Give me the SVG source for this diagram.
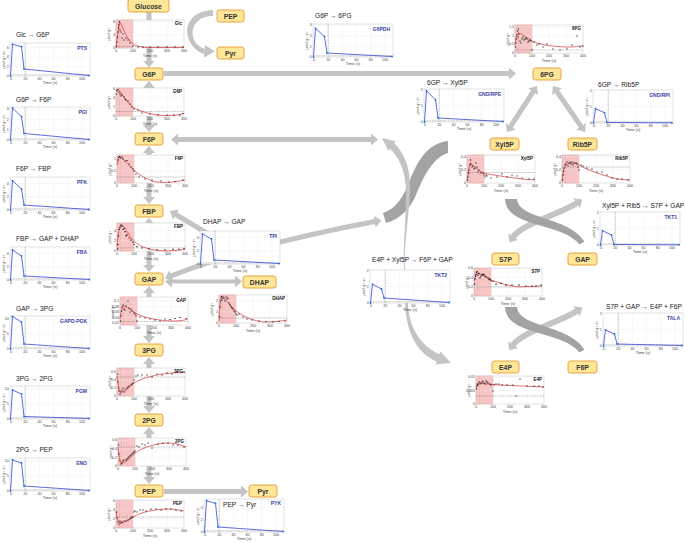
<svg xmlns="http://www.w3.org/2000/svg" width="685" height="543" viewBox="0 0 685 543">
<style>
.nd rect{fill:#ffe699;stroke:#e8a33d;stroke-width:1}
.nd text{font:bold 6.8px "Liberation Sans",Arial,sans-serif;fill:#333;text-anchor:middle}
.ttl{font:6.6px "Liberation Sans",Arial,sans-serif;fill:#222}
.frame{fill:#fff;stroke:#c8c8c8;stroke-width:0.5}
.grid{fill:none;stroke:#ebebeb;stroke-width:0.4}
.pink{fill:#f7c5c5;stroke:#e59a9a;stroke-width:0.4}
.vd{stroke:#999;stroke-width:0.4;stroke-dasharray:1 0.8}
.gd{stroke:#4f9a62;stroke-width:0.5;stroke-dasharray:1.2 0.8}
.dt{stroke:#666;stroke-width:0.5;stroke-dasharray:0.8 0.8;fill:none}
.rc{fill:none;stroke:#d33;stroke-width:0.7}
.dots{fill:none;stroke:#111;stroke-width:1.2;stroke-linecap:square}
.bl{fill:none;stroke:#3346d6;stroke-width:0.8}
.bp{fill:none;stroke:#1f6fe0;stroke-width:1.8;stroke-linecap:round}
.tk{font:3.6px "Liberation Sans",Arial,sans-serif;fill:#444}
.ax{font:4px "Liberation Sans",Arial,sans-serif;fill:#444}
.fl{font:bold 5px "Liberation Sans",Arial,sans-serif;fill:#3b3fa8;text-anchor:end}
.ml{font:bold 4.5px "Liberation Sans",Arial,sans-serif;fill:#111;text-anchor:end}
.lg{stroke:#c4c4c4;fill:none}
.lgf{fill:#c4c4c4}
.dkf{fill:#a3a3a3}
</style>
<defs>
<marker id="ah" markerUnits="userSpaceOnUse" viewBox="0 0 7 12" markerWidth="7" markerHeight="12" refX="0.5" refY="6" orient="auto-start-reverse"><path d="M0,0 L7,6 L0,12 Z" fill="#c4c4c4"/></marker>
<g id="fluxbase">
<rect class="frame" width="80" height="33"/>
<path class="grid" d="M15.2,0V33M29.4,0V33M43.6,0V33M57.8,0V33M72,0V33"/>
<line class="dt" x1="0" y1="31.8" x2="80" y2="31.8"/>
<line class="gd" x1="15.2" y1="0" x2="15.2" y2="33"/>
<g class="tk" text-anchor="middle"><text x="1" y="36.5">0</text><text x="15.2" y="36.5">20</text><text x="29.4" y="36.5">40</text><text x="43.6" y="36.5">60</text><text x="57.8" y="36.5">80</text><text x="72" y="36.5">100</text></g>
<text class="ax" x="40" y="41" text-anchor="middle">Time (s)</text>
<text class="tk" transform="translate(-5.5,16.5) rotate(-90)" text-anchor="middle">μmol g⁻¹ s⁻¹</text>
</g>
<g id="metbase">
<rect class="frame" width="68" height="28"/>
<rect class="pink" width="17" height="28"/>
<path class="grid" d="M17,0V28M34,0V28M51,0V28"/>
<line class="vd" x1="3.4" y1="0" x2="3.4" y2="28"/>
<g class="tk" text-anchor="middle"><text x="0" y="32">0</text><text x="17" y="32">100</text><text x="34" y="32">200</text><text x="51" y="32">300</text><text x="68" y="32">400</text></g>
<text class="ax" x="34" y="36.5" text-anchor="middle">Time (s)</text>
<text class="tk" transform="translate(-6.5,14) rotate(-90)" text-anchor="middle">μmol g⁻¹</text>
</g>
</defs>
<rect width="685" height="543" fill="#fff"/>

<g id="connectors">
<g class="lg" stroke-width="5" marker-end="url(#ah)">
<line x1="149" y1="12" x2="149" y2="61"/>
<line x1="164" y1="73.5" x2="509.5" y2="73.5"/>
<line x1="164" y1="491.5" x2="241.5" y2="491.5"/>
<line x1="215" y1="238" x2="175.6" y2="214.3"/>
</g>
<g class="lg" stroke-width="5" marker-start="url(#ah)" marker-end="url(#ah)">
<line x1="149" y1="87.5" x2="149" y2="125.5"/>
<line x1="149" y1="152.5" x2="149" y2="197.5"/>
<line x1="149" y1="224.5" x2="149" y2="265.5"/>
<line x1="149" y1="292.5" x2="149" y2="336.5"/>
<line x1="149" y1="363.5" x2="149" y2="406.5"/>
<line x1="149" y1="433.5" x2="149" y2="477.5"/>
<line x1="177.5" y1="139.5" x2="371.5" y2="139.5"/>
<path d="M171,276 Q250,245 375,221.5"/>
<line x1="533.4" y1="91.4" x2="510.5" y2="126.6"/>
<line x1="556.7" y1="91.3" x2="581.3" y2="126.7"/>
</g>
<g class="lg" stroke-width="6" marker-start="url(#ah)" marker-end="url(#ah)">
<path d="M513,237 C522,224 560,214 577,203"/>
<path d="M513,345 C522,332 560,322 577,311"/>
</g>
<line class="lg" stroke-width="4" x1="171.5" y1="281.5" x2="235.5" y2="281.5" marker-start="url(#ah)" marker-end="url(#ah)"/>
<path class="lgf" d="M213,10 C194,10 184,24 188,37 C191,46 197,52 204,54 L204,57.5 L215,51.5 L205,45 L205,49 C199,47 194,43 193,36 C191,26 198,16 213,16 Z"/>
<path class="dkf" d="M448,141 C428,143 418,160 410,180 C404,196 396,209 383,213 L386,223 C400,219 410,209 416,195 C423,178 432,158 448,153 Z"/>
<path class="lgf" d="M382,138 L395.75,141.3 L394.2,143.3 C402,151 411,165 410,190 C409,215 405,240 404.6,258 L403.6,258 C404,240 406,215 406,192 C406,170 398,156 389.8,148.7 L388.25,150.7 Z"/>
<line class="lg" stroke-width="1" x1="404" y1="258" x2="406.5" y2="302"/>
<path class="lgf" d="M451,363 L440.5,351.5 L439.4,354.3 C428,349 418,340 412,325 C409,316 408,309 408,302 L405,302 C405,312 407,322 410,332 C416,348 426,357 436.6,361.7 L435.5,364.5 Z"/>
<path class="dkf" d="M505,199 C506,228 562,222 579.5,244.5 L584.5,241.5 C568,216 519,220 517,199 Z"/>
<path class="dkf" d="M505,307 C506,336 562,330 579.5,352.5 L584.5,349.5 C568,324 519,328 517,307 Z"/>
</g>

<g id="flux-pts" transform="translate(10,43)">
<text class="ttl" x="6" y="-6">Glc → G6P</text>
<use href="#fluxbase"/>
<path class="grid" d="M0,23.6H80M0,14.2H80M0,4.7H80"/>
<polyline class="bl" points="0.5,33 2.5,1.3 11.5,3.7 14,26 79,32.5"/>
<path class="bp" d="M0.5,33h0M2.5,1.3h0M11.5,3.7h0M14,26h0M79,32.5h0"/>
<g class="tk" text-anchor="end"><text x="-1.2" y="34.2">0</text><text x="-1.2" y="24.8">2</text><text x="-1.2" y="15.4">4</text><text x="-1.2" y="5.9">6</text></g>
<text class="fl" x="77" y="6.5">PTS</text>
</g>
<g id="flux-pgi" transform="translate(10,107)">
<text class="ttl" x="6" y="-5">G6P → F6P</text>
<use href="#fluxbase"/>
<path class="grid" d="M0,22.7H80M0,12.4H80M0,2.1H80"/>
<polyline class="bl" points="0.5,33 2.5,1 11.5,9.7 14,26.5 79,32.5"/>
<path class="bp" d="M0.5,33h0M2.5,1h0M11.5,9.7h0M14,26.5h0M79,32.5h0"/>
<g class="tk" text-anchor="end"><text x="-1.2" y="34.2">0</text><text x="-1.2" y="23.9">1</text><text x="-1.2" y="13.6">2</text><text x="-1.2" y="3.3">3</text></g>
<text class="fl" x="77" y="6.5">PGI</text>
</g>
<g id="flux-pfk" transform="translate(10,177)">
<text class="ttl" x="6" y="-6">F6P → FBP</text>
<use href="#fluxbase"/>
<path class="grid" d="M0,19.8H80M0,6.6H80"/>
<polyline class="bl" points="0.5,33 2.5,3.7 11.5,12 14,28 79,32.5"/>
<path class="bp" d="M0.5,33h0M2.5,3.7h0M11.5,12h0M14,28h0M79,32.5h0"/>
<g class="tk" text-anchor="end"><text x="-1.2" y="34.2">0</text><text x="-1.2" y="21">2</text><text x="-1.2" y="7.8">4</text></g>
<text class="fl" x="77" y="6.5">PFK</text>
</g>
<g id="flux-fba" transform="translate(10,247)">
<text class="ttl" x="6" y="-6">FBP → GAP + DHAP</text>
<use href="#fluxbase"/>
<path class="grid" d="M0,19.8H80M0,6.6H80"/>
<polyline class="bl" points="0.5,33 2.5,3 11.5,9 14,29 79,32.5"/>
<path class="bp" d="M0.5,33h0M2.5,3h0M11.5,9h0M14,29h0M79,32.5h0"/>
<g class="tk" text-anchor="end"><text x="-1.2" y="34.2">0</text><text x="-1.2" y="21">2</text><text x="-1.2" y="7.8">4</text></g>
<text class="fl" x="77" y="6.5">FBA</text>
</g>
<g id="flux-gapd" transform="translate(10,316)">
<text class="ttl" x="6" y="-5">GAP → 3PG</text>
<use href="#fluxbase"/>
<path class="grid" d="M0,18H80M0,3H80"/>
<polyline class="bl" points="0.5,33 2.5,0.5 11.5,6 14,28 79,32.5"/>
<path class="bp" d="M0.5,33h0M2.5,0.5h0M11.5,6h0M14,28h0M79,32.5h0"/>
<g class="tk" text-anchor="end"><text x="-1.2" y="34.2">0</text><text x="-1.2" y="19.2">5</text><text x="-1.2" y="4.2">10</text></g>
<text class="fl" x="77" y="6.5">GAPD-PGK</text>
</g>
<g id="flux-pgm" transform="translate(10,386)">
<text class="ttl" x="6" y="-5">3PG → 2PG</text>
<use href="#fluxbase"/>
<path class="grid" d="M0,18H80M0,3H80"/>
<polyline class="bl" points="0.5,33 2.5,4 11.5,8 14,30.5 79,32.5"/>
<path class="bp" d="M0.5,33h0M2.5,4h0M11.5,8h0M14,30.5h0M79,32.5h0"/>
<g class="tk" text-anchor="end"><text x="-1.2" y="34.2">0</text><text x="-1.2" y="19.2">5</text><text x="-1.2" y="4.2">10</text></g>
<text class="fl" x="77" y="6.5">PGM</text>
</g>
<g id="flux-eno" transform="translate(10,458)">
<text class="ttl" x="6" y="-6">2PG → PEP</text>
<use href="#fluxbase"/>
<path class="grid" d="M0,18H80M0,3H80"/>
<polyline class="bl" points="0.5,33 2.5,2 11.5,5 14,28 79,32.5"/>
<path class="bp" d="M0.5,33h0M2.5,2h0M11.5,5h0M14,28h0M79,32.5h0"/>
<g class="tk" text-anchor="end"><text x="-1.2" y="34.2">0</text><text x="-1.2" y="19.2">5</text><text x="-1.2" y="4.2">10</text></g>
<text class="fl" x="77" y="6.5">ENO</text>
</g>
<g id="flux-g6pdh" transform="translate(313,24)">
<text class="ttl" x="2" y="-6">G6P → 6PG</text>
<use href="#fluxbase"/>
<path class="grid" d="M0,22.4H80M0,11.7H80M0,1.1H80"/>
<polyline class="bl" points="0.5,33 2.5,4.3 11.5,12.7 14,29 79,32.5"/>
<path class="bp" d="M0.5,33h0M2.5,4.3h0M11.5,12.7h0M14,29h0M79,32.5h0"/>
<g class="tk" text-anchor="end"><text x="-1.2" y="34.2">0</text><text x="-1.2" y="23.6">1</text><text x="-1.2" y="12.9">2</text><text x="-1.2" y="2.3">3</text></g>
<text class="fl" x="77" y="6.5">G6PDH</text>
</g>
<g id="flux-gndrpe" transform="translate(424,89)">
<text class="ttl" x="3" y="-4">6GP → Xyl5P</text>
<use href="#fluxbase"/>
<path class="grid" d="M0,16.5H80"/>
<polyline class="bl" points="0.5,33 2.5,1.7 11.5,11 14,29 79,32.5"/>
<path class="bp" d="M0.5,33h0M2.5,1.7h0M11.5,11h0M14,29h0M79,32.5h0"/>
<g class="tk" text-anchor="end"><text x="-1.2" y="34.2">0</text><text x="-1.2" y="17.7">1</text><text x="-1.2" y="2">2</text></g>
<text class="fl" x="77" y="6.5">GND/RPE</text>
</g>
<g id="flux-gndrpi" transform="translate(593,90)">
<text class="ttl" x="5" y="-3">6GP → Rib5P</text>
<use href="#fluxbase"/>
<path class="grid" d="M0,16.5H80"/>
<polyline class="bl" points="0.5,33 2.5,18.7 11.5,22.7 14,32.5 79,32.8"/>
<path class="bp" d="M0.5,33h0M2.5,18.7h0M11.5,22.7h0M14,32.5h0M79,32.8h0"/>
<g class="tk" text-anchor="end"><text x="-1.2" y="34.2">0</text><text x="-1.2" y="17.7">1</text><text x="-1.2" y="2">2</text></g>
<text class="fl" x="77" y="6.5">GND/RPI</text>
</g>
<g id="flux-tpi" transform="translate(200,231)">
<text class="ttl" x="3" y="-7">DHAP → GAP</text>
<use href="#fluxbase"/>
<path class="grid" d="M0,19.8H80M0,6.6H80"/>
<polyline class="bl" points="0.5,33 2.5,3 11.5,8 14,29 79,32.5"/>
<path class="bp" d="M0.5,33h0M2.5,3h0M11.5,8h0M14,29h0M79,32.5h0"/>
<g class="tk" text-anchor="end"><text x="-1.2" y="34.2">0</text><text x="-1.2" y="21">2</text><text x="-1.2" y="7.8">4</text></g>
<text class="fl" x="77" y="6.5">TPI</text>
</g>
<g id="flux-tkt2" transform="translate(370,270)">
<text class="ttl" x="2" y="-8">E4P + Xyl5P → F6P + GAP</text>
<use href="#fluxbase"/>
<path class="grid" d="M0,16.5H80"/>
<polyline class="bl" points="0.5,33 2.5,14.3 11.5,19 14,28 79,32.5"/>
<path class="bp" d="M0.5,33h0M2.5,14.3h0M11.5,19h0M14,28h0M79,32.5h0"/>
<g class="tk" text-anchor="end"><text x="-1.2" y="34.2">0</text><text x="-1.2" y="17.7">1</text><text x="-1.2" y="2">2</text></g>
<text class="fl" x="77" y="6.5">TKT2</text>
</g>
<g id="flux-tkt1" transform="translate(600,212)">
<text class="ttl" x="2" y="-4">Xyl5P + Rib5 → S7P + GAP</text>
<use href="#fluxbase"/>
<path class="grid" d="M0,16.5H80"/>
<polyline class="bl" points="0.5,33 2.5,18.7 11.5,23 14,32.5 79,32.8"/>
<path class="bp" d="M0.5,33h0M2.5,18.7h0M11.5,23h0M14,32.5h0M79,32.8h0"/>
<g class="tk" text-anchor="end"><text x="-1.2" y="34.2">0</text><text x="-1.2" y="17.7">1</text><text x="-1.2" y="2">2</text></g>
<text class="fl" x="77" y="6.5">TKT1</text>
</g>
<g id="flux-tala" transform="translate(603,313)">
<text class="ttl" x="3" y="-4">S7P + GAP → E4P + F6P</text>
<use href="#fluxbase"/>
<path class="grid" d="M0,16.5H80"/>
<polyline class="bl" points="0.5,33 2.5,17 11.5,21 14,31 79,32.5"/>
<path class="bp" d="M0.5,33h0M2.5,17h0M11.5,21h0M14,31h0M79,32.5h0"/>
<g class="tk" text-anchor="end"><text x="-1.2" y="34.2">0</text><text x="-1.2" y="17.7">1</text><text x="-1.2" y="2">2</text></g>
<text class="fl" x="77" y="6.5">TALA</text>
</g>
<g id="flux-pyk" transform="translate(204,499)">
<use href="#fluxbase"/>
<path class="grid" d="M0,21H80M0,9H80"/>
<polyline class="bl" points="0.5,33 2.5,1.7 11.5,4.3 14,28 79,32.5"/>
<path class="bp" d="M0.5,33h0M2.5,1.7h0M11.5,4.3h0M14,28h0M79,32.5h0"/>
<g class="tk" text-anchor="end"><text x="-1.2" y="34.2">0</text><text x="-1.2" y="22.2">2</text><text x="-1.2" y="10.2">4</text></g>
<text class="ttl" x="19" y="8">PEP → Pyr</text>
<text class="fl" x="77" y="5.5">PYK</text>
</g>

<g id="plot-glc" transform="translate(116,20)">
<use href="#metbase"/>
<path class="grid" d="M0,14.8H68M0,1.7H68"/>
<line class="dt" x1="0" y1="26.5" x2="68" y2="26.5"/>
<path class="rc" d="M0,28 L1.5,15 L3.4,1.5 C6,5 9,15 14,21 C18,25 22,27 30,27.5 L68,27.5"/>
<path class="dots" d="M0.5,26h0M1,22h0M1.5,17h0M2,12h0M2.5,8h0M3,5h0M3.5,2h0M4,10h0M5,12h0M6,18h0M7,14h0M8,20h0M10,18h0M12,20h0M14,23h0M17,26h0M22,27h0M27,27h0M34,27h0M42,27h0M51,27h0M59,27h0M67,27h0"/>
<g class="tk" text-anchor="end"><text x="-1" y="29.2">0</text><text x="-1" y="16">4</text><text x="-1" y="2.9">8</text></g>
<text class="ml" x="66" y="5">Glc</text>
</g>
<g id="plot-g6p" transform="translate(116,88)">
<use href="#metbase"/>
<path class="grid" d="M0,19H68M0,9.9H68"/>
<line class="dt" x1="0" y1="23.5" x2="68" y2="23.5"/>
<path class="rc" d="M0,3 C2,0.5 3,2 5,5 C10,12 14,17 18,20 C28,25 40,27.5 51,27.5 C58,27.5 63,27 68,25.5"/>
<path class="dots" d="M0.5,6h0M1,3h0M2,1.5h0M3,4h0M4,6h0M5,8h0M6,7h0M8,9h0M9,11h0M10,12h0M12,13h0M14,16h0M16,19h0M18,21h0M22,22h0M26,25h0M34,26h0M42,27h0M51,27h0M58,27h0M64,27h0M67,25.5h0"/>
<g class="tk" text-anchor="end"><text x="-1" y="29.2">0</text><text x="-1" y="20.2">2</text><text x="-1" y="11.1">4</text><text x="-1" y="2.1">6</text></g>
<text class="ml" x="66" y="5">G6P</text>
</g>
<g id="plot-f6p" transform="translate(117,155)">
<use href="#metbase"/>
<path class="grid" d="M0,15.8H68M0,3.6H68"/>
<line class="dt" x1="0" y1="22" x2="68" y2="22"/>
<path class="rc" d="M0,10 L2,2 C4,1 8,6 12,10 C18,17 25,22 35,26 C45,28.5 55,27.5 68,25"/>
<path class="dots" d="M1,5h0M1.5,2.5h0M2.5,1.5h0M3.5,3h0M5,2h0M6,4h0M8,6h0M10,5.5h0M12,9h0M14,12h0M16,14h0M17,16h0M19,19h0M22,22h0M28,24h0M35,25h0M44,26h0M52,27h0M58,26.5h0M66,25h0"/>
<g class="tk" text-anchor="end"><text x="-1" y="29.2">0</text><text x="-1" y="17">0.5</text><text x="-1" y="4.8">1</text></g>
<text class="ml" x="66" y="5">F6P</text>
</g>
<g id="plot-fbp" transform="translate(117,223)">
<use href="#metbase"/>
<path class="grid" d="M0,17.8H68M0,7.6H68"/>
<line class="dt" x1="0" y1="24.8" x2="68" y2="24.8"/>
<path class="rc" d="M0,23.7 C1,10.8 2,3.2 4.2,2.2 C7,2.2 10,8.6 14,15 C20,22.6 30,27 45,27.8 C55,28 62,27.5 68,25.8"/>
<path class="dots" d="M0.5,25.8h0M1,21.5h0M1.5,12.9h0M2,6.5h0M3,4.3h0M4,2.2h0M5,3.2h0M6,6.5h0M7,5.4h0M8,8.6h0M9,12.9h0M10,11.8h0M12,15h0M14,17.2h0M16,19.4h0M17,21.5h0M20,23.7h0M25,24.8h0M32,25.8h0M40,26.9h0M48,26.9h0M56,26.4h0M62,26.4h0M67,25.8h0"/>
<g class="tk" text-anchor="end"><text x="-1" y="29.2">0</text><text x="-1" y="19">2</text><text x="-1" y="8.8">4</text></g>
<text class="ml" x="66" y="5">FBP</text>
</g>
<g id="plot-gap" transform="translate(120,297)">
<use href="#metbase"/>
<path class="grid" d="M0,20.5H68M0,15H68M0,9.5H68M0,4H68"/>
<line class="dt" x1="0" y1="24.5" x2="68" y2="24.5"/>
<path class="rc" d="M0,22 C1,15 2,9 4,9 C8,10 12,14 17,17 C25,21 40,24 55,24 C60,24 65,23 68,22"/>
<path class="dots" d="M0.5,24h0M1,19h0M1.5,14h0M2,10h0M3,8h0M4,12h0M5,13h0M6,9h0M8,4h0M9,11h0M10,15h0M11,12h0M12,14h0M14,16h0M15,17h0M16,19h0M17,24h0M20,20h0M25,21h0M30,22h0M35,23h0M40,24h0M45,22h0M50,22.5h0M55,21.5h0M60,20.5h0M66,21.5h0"/>
<g class="tk" text-anchor="end"><text x="-1" y="27.2">0.02</text><text x="-1" y="21.7">0.04</text><text x="-1" y="16.2">0.06</text><text x="-1" y="10.7">0.08</text><text x="-1" y="5.2">0.1</text></g>
<text class="ml" x="66" y="5">GAP</text>
</g>
<g id="plot-3pg" transform="translate(117,368)">
<use href="#metbase"/>
<path class="grid" d="M0,20H68M0,12H68M0,4H68"/>
<line class="dt" x1="0" y1="9" x2="68" y2="9"/>
<path class="rc" d="M0,8 C1,16 2,23 3.5,24 C8,24 12,20 17,15 C25,10 40,6 55,5 L68,4.5"/>
<path class="dots" d="M0.5,6h0M1,14h0M1.5,20h0M2,23h0M3,26h0M4,24h0M5,22h0M6,20h0M7,24h0M8,21h0M10,20h0M11,19h0M12,18h0M14,17h0M15,16h0M16,15h0M17,12h0M19,8h0M21,7h0M25,7h0M30,7h0M35,9h0M40,6h0M45,7h0M50,5h0M55,6h0M60,4h0M67,4h0"/>
<g class="tk" text-anchor="end"><text x="-1" y="29.2">0</text><text x="-1" y="21.2">0.2</text><text x="-1" y="13.2">0.4</text><text x="-1" y="5.2">0.6</text></g>
<text class="ml" x="66" y="5">3PG</text>
</g>
<g id="plot-2pg" transform="translate(118,438)">
<use href="#metbase"/>
<path class="grid" d="M0,19.4H68M0,10.8H68M0,2.2H68"/>
<line class="dt" x1="0" y1="9" x2="68" y2="9"/>
<path class="rc" d="M0,9 C1,18 2,25 3.5,25 C8,25 12,20 17,15 C25,9 40,5 50,5 C57,5 63,7 68,9"/>
<path class="dots" d="M0.5,7h0M1,16h0M2,23h0M3,26h0M4,25h0M5,23h0M6,22h0M8,22h0M9,21h0M10,20h0M11,19h0M12,18h0M13,17h0M14,16h0M15,15h0M16,14h0M17,13h0M19,8h0M21,9h0M24,6h0M27,7h0M30,5h0M34,10h0M40,6h0M45,5h0M50,5h0M55,7h0M60,7h0M66,9h0"/>
<g class="tk" text-anchor="end"><text x="-1" y="29.2">0</text><text x="-1" y="20.6">0.2</text><text x="-1" y="12">0.4</text><text x="-1" y="3.4">0.6</text></g>
<text class="ml" x="66" y="5">2PG</text>
</g>
<g id="plot-pep" transform="translate(116,500)">
<use href="#metbase"/>
<path class="grid" d="M0,19H68M0,10H68M0,1H68"/>
<line class="dt" x1="0" y1="17" x2="68" y2="17"/>
<path class="rc" d="M0,12 C1,19 2,22 4,23 C8,23 12,20 17,17 C25,12 40,9 52,9 C58,9 63,10 68,11"/>
<path class="dots" d="M0.5,12h0M1,18h0M2,22h0M3,24h0M4,21h0M5,23h0M6,22h0M8,21h0M10,21h0M12,20h0M14,19h0M15,18h0M16,17h0M17,17h0M18,12h0M19,11h0M21,12h0M24,10h0M27,10h0M30,11h0M35,9h0M40,9h0M45,10h0M50,9h0M55,9h0M60,10h0M65,11h0"/>
<g class="tk" text-anchor="end"><text x="-1" y="29.2">0</text><text x="-1" y="20.2">2</text><text x="-1" y="11.2">4</text><text x="-1" y="2.2">6</text></g>
<text class="ml" x="66" y="5">PEP</text>
</g>
<g id="plot-6pg" transform="translate(515,25)">
<use href="#metbase"/>
<path class="grid" d="M0,19.25H68M0,10.5H68M0,1.75H68"/>
<line class="dt" x1="0" y1="25" x2="68" y2="25"/>
<path class="rc" d="M0,20 C1,12 2,8 3.4,8 C8,9 12,13 17,16 C25,20 40,22 55,22 C60,22 65,21 68,21"/>
<path class="dots" d="M0.5,22h0M1,18h0M1.5,14h0M2,10h0M2.5,6h0M3,12h0M3.5,4h0M4,9h0M5,16h0M6,18h0M7,14h0M8,12h0M9,15h0M10,14h0M11,13h0M12,14h0M13,17h0M14,16h0M15,15h0M16,16h0M17,25h0M19,17h0M22,20h0M24,19h0M28,22h0M32,19h0M38,24h0M45,25h0M52,24h0M57,20h0M62,11h0M65,22h0M68,21h0"/>
<g class="tk" text-anchor="end"><text x="-1" y="29.2">0</text><text x="-1" y="20.4">0.5</text><text x="-1" y="11.7">1</text><text x="-1" y="2.9">1.5</text></g>
<text class="ml" x="66" y="5">6PG</text>
</g>
<g id="plot-xyl5p" transform="translate(467,155)">
<use href="#metbase"/>
<path class="grid" d="M0,14.7H68M0,1.4H68"/>
<line class="dt" x1="0" y1="17.5" x2="68" y2="17.5"/>
<path class="rc" d="M0,26 C1,20 2,10 3.4,8 C6,10 10,15 16,18 C25,20 40,22 55,24 L68,25"/>
<path class="dots" d="M0.5,25h0M1,22h0M1.5,18h0M2,15h0M3,10h0M3.5,5h0M4,9h0M5,12h0M6,11h0M7,14h0M8,13h0M9,8h0M10,12h0M11,17h0M12,15h0M14,18h0M16,18h0M17,20h0M18,22h0M19,20h0M20,21h0M24,23h0M30,22h0M35,19h0M40,22h0M45,20h0M50,21h0M55,23h0M62,24h0M67,24h0"/>
<g class="tk" text-anchor="end"><text x="-1" y="29.2">0</text><text x="-1" y="15.9">0.2</text><text x="-1" y="2.6">0.4</text></g>
<text class="ml" x="66" y="5">Xyl5P</text>
</g>
<g id="plot-rib5p" transform="translate(562,155)">
<use href="#metbase"/>
<path class="grid" d="M0,14.7H68M0,1.4H68"/>
<line class="dt" x1="0" y1="12" x2="68" y2="12"/>
<path class="rc" d="M0,26 C1,18 2,12 4,10 C8,7 14,8 17,10 C25,15 40,20 55,24 L68,25"/>
<path class="dots" d="M0.5,25h0M1,20h0M1.5,16h0M2,13h0M3,10h0M4,9h0M5,7h0M6,11h0M7,8h0M8,7h0M9,9h0M10,7h0M11,10h0M12,8h0M14,8h0M15,9h0M16,12h0M17,15h0M19,10h0M21,11h0M25,13h0M30,14h0M35,17h0M40,17h0M45,20h0M50,23h0M55,24h0M60,24h0M66,25h0"/>
<g class="tk" text-anchor="end"><text x="-1" y="29.2">0</text><text x="-1" y="15.9">0.2</text><text x="-1" y="2.6">0.4</text></g>
<text class="ml" x="66" y="5">Rib5P</text>
</g>
<g id="plot-s7p" transform="translate(474,268)">
<use href="#metbase"/>
<path class="grid" d="M0,18.7H68M0,9.3H68"/>
<line class="dt" x1="0" y1="19" x2="68" y2="19"/>
<path class="rc" d="M0,13.5 C1,9 2,6.3 3.4,5.4 C8,6.3 12,9 17,11.7 C25,15.3 35,18 45,18.9 L68,18"/>
<path class="dots" d="M0.5,16.2h0M1,10.8h0M1.5,8.1h0M2,6.3h0M2.5,4.5h0M3,3.6h0M4,7.2h0M5,5.4h0M6,9.9h0M7,8.1h0M8,6.3h0M9,7.2h0M10,6.3h0M11,8.1h0M12,9h0M14,9.9h0M15,11.7h0M16,10.8h0M17,12.6h0M19,13.5h0M22,16.2h0M27,15.3h0M32,17.1h0M38,17.1h0M45,17.1h0M52,18h0M58,18h0M62,18h0M67,17.1h0"/>
<g class="tk" text-anchor="end"><text x="-1" y="29.2">0</text><text x="-1" y="19.9">0.2</text><text x="-1" y="10.5">0.4</text><text x="-1" y="1.2">0.6</text></g>
<text class="ml" x="66" y="5">S7P</text>
</g>
<g id="plot-e4p" transform="translate(476,376)">
<use href="#metbase"/>
<path class="grid" d="M0,14.5H68M0,1H68"/>
<line class="dt" x1="0" y1="20" x2="68" y2="20"/>
<path class="rc" d="M0,12 C1,8 2,7 3.5,7 C10,8 20,9 35,9.5 L68,11"/>
<path class="dots" d="M0.5,13h0M1,10h0M1.5,8h0M2,9h0M3,6h0M4,8h0M5,7h0M6,6h0M7,5h0M8,7h0M9,8h0M10,5h0M11,6h0M12,7h0M14,8h0M15,9h0M17,15h0M18,9h0M20,8h0M23,8h0M26,9h0M31,9h0M37,9h0M40,20h0M44,3h0M51,10h0M58,10h0M63,10h0M67,11h0"/>
<g class="tk" text-anchor="end"><text x="-1" y="29.2">0</text><text x="-1" y="15.7">0.005</text><text x="-1" y="2.2">0.01</text></g>
<text class="ml" x="66" y="5">E4P</text>
</g>
<g id="plot-dhap" transform="translate(219,295)">
<use href="#metbase"/>
<path class="grid" d="M0,17H68M0,6H68"/>
<line class="dt" x1="0" y1="23" x2="68" y2="23"/>
<path class="rc" d="M0,26 C0.5,12 1.5,3 3.4,3 C7,4 12,12 17,16 C25,22 35,26 45,27 C55,27 62,26 68,25"/>
<path class="dots" d="M0.5,22h0M1,12h0M1.5,6h0M2,3h0M2.5,1.5h0M3,5h0M4,2h0M5,3h0M6,6h0M7,2h0M8,4h0M9,3h0M10,8h0M11,10h0M12,12h0M13,13h0M14,14h0M15,16h0M16,17h0M17,19h0M18,20h0M20,19h0M24,22h0M28,24h0M33,25h0M40,26h0M47,26.5h0M54,27h0M60,26.5h0M66,26h0"/>
<g class="tk" text-anchor="end"><text x="-1" y="29.2">0</text><text x="-1" y="18.2">1</text><text x="-1" y="7.2">2</text></g>
<text class="ml" x="66" y="5">DHAP</text>
</g>

<g id="n-glucose" class="nd"><rect x="128" y="-1" width="41" height="13" rx="2.5"/><text x="148.5" y="8.5">Glucose</text></g>
<g id="n-g6p" class="nd"><rect x="135" y="68" width="28" height="12" rx="2.5"/><text x="149" y="76.5">G6P</text></g>
<g id="n-f6p" class="nd"><rect x="135" y="133" width="28" height="12" rx="2.5"/><text x="149" y="141.5">F6P</text></g>
<g id="n-fbp" class="nd"><rect x="135" y="205" width="28" height="12" rx="2.5"/><text x="149" y="213.5">FBP</text></g>
<g id="n-gap" class="nd"><rect x="135" y="273" width="28" height="12" rx="2.5"/><text x="149" y="281.5">GAP</text></g>
<g id="n-3pg" class="nd"><rect x="135" y="344" width="28" height="12" rx="2.5"/><text x="149" y="352.5">3PG</text></g>
<g id="n-2pg" class="nd"><rect x="135" y="414" width="28" height="12" rx="2.5"/><text x="149" y="422.5">2PG</text></g>
<g id="n-pep" class="nd"><rect x="135" y="485" width="28" height="12" rx="2.5"/><text x="149" y="493.5">PEP</text></g>
<g id="n-pep-top" class="nd"><rect x="217" y="10" width="27" height="12" rx="2.5"/><text x="230.5" y="18.5">PEP</text></g>
<g id="n-pyr-top" class="nd"><rect x="217" y="47" width="27" height="12" rx="2.5"/><text x="230.5" y="55.5">Pyr</text></g>
<g id="n-pyr" class="nd"><rect x="249" y="485" width="28" height="12" rx="2.5"/><text x="263" y="493.5">Pyr</text></g>
<g id="n-dhap" class="nd"><rect x="243" y="276" width="33" height="12" rx="2.5"/><text x="259.5" y="284.5">DHAP</text></g>
<g id="n-6pg" class="nd"><rect x="533" y="68" width="28" height="12" rx="2.5"/><text x="547" y="76.5">6PG</text></g>
<g id="n-xyl5p" class="nd"><rect x="490" y="138" width="29" height="12" rx="2.5"/><text x="504.5" y="146.5">Xyl5P</text></g>
<g id="n-rib5p" class="nd"><rect x="568" y="138" width="29" height="12" rx="2.5"/><text x="582.5" y="146.5">Rib5P</text></g>
<g id="n-s7p" class="nd"><rect x="492" y="253" width="27" height="12" rx="2.5"/><text x="505.5" y="261.5">S7P</text></g>
<g id="n-gap-r" class="nd"><rect x="568" y="253" width="29" height="12" rx="2.5"/><text x="582.5" y="261.5">GAP</text></g>
<g id="n-e4p" class="nd"><rect x="492" y="361" width="27" height="12" rx="2.5"/><text x="505.5" y="369.5">E4P</text></g>
<g id="n-f6p-r" class="nd"><rect x="568" y="361" width="29" height="12" rx="2.5"/><text x="582.5" y="369.5">F6P</text></g>
</svg>
